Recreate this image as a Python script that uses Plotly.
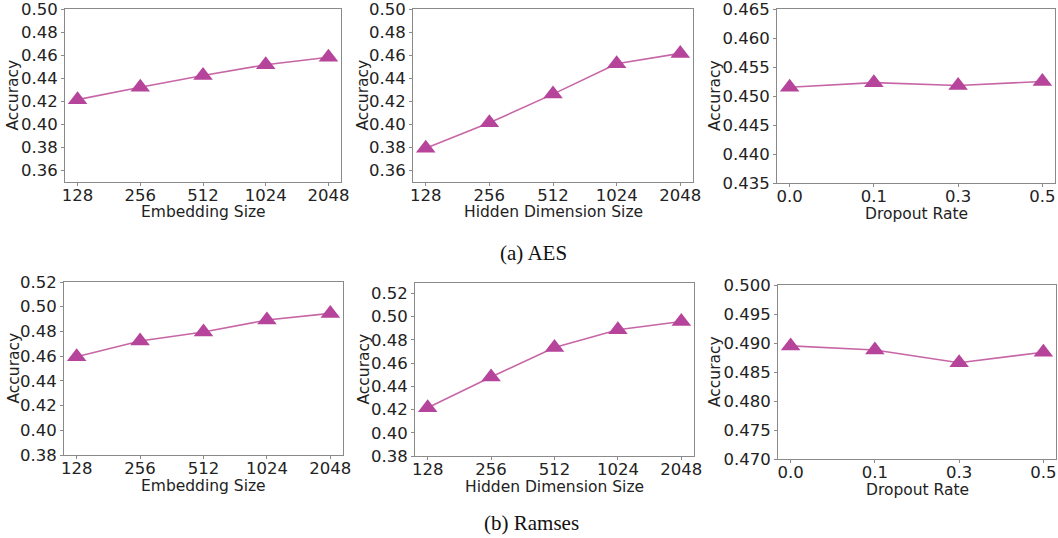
import plotly.graph_objects as go

W, H = 1058, 538

size_cats = ["128", "256", "512", "1024", "2048"]
dropout_cats = ["0.0", "0.1", "0.3", "0.5"]

aes_embedding = [0.4214, 0.4322, 0.4423, 0.4517, 0.4582]
aes_hidden = [0.3792, 0.4013, 0.4262, 0.4525, 0.4615]
aes_dropout = [0.4515, 0.4523, 0.4518, 0.4525]

ramses_embedding = [0.4595, 0.4722, 0.4796, 0.4892, 0.4946]
ramses_hidden = [0.4215, 0.4480, 0.4735, 0.4888, 0.4958]
ramses_dropout = [0.4895, 0.4888, 0.4866, 0.4884]

aes_size_ticks = [0.36, 0.38, 0.40, 0.42, 0.44, 0.46, 0.48, 0.50]
aes_drop_ticks = [0.435, 0.440, 0.445, 0.450, 0.455, 0.460, 0.465]
ramses_size_ticks = [0.38, 0.40, 0.42, 0.44, 0.46, 0.48, 0.50, 0.52]
ramses_drop_ticks = [0.470, 0.475, 0.480, 0.485, 0.490, 0.495, 0.500]

x_titles = ["Embedding Size", "Hidden Dimension Size", "Dropout Rate"] * 2
y_title = "Accuracy"
captions = ["(a) AES", "(b) Ramses"]

panels = [
    # (cats, values, x px range, y px range, y range, tickvals, fmt, ytitle x px, xtitle y px)
    (size_cats, aes_embedding, (65, 341), (9, 182), (0.35, 0.50), aes_size_ticks, ".2f", 13, 212),
    (size_cats, aes_hidden, (413, 693), (9, 182), (0.35, 0.50), aes_size_ticks, ".2f", 363, 212),
    (dropout_cats, aes_dropout, (777, 1055), (9, 183), (0.435, 0.465), aes_drop_ticks, ".3f", 715, 214),
    (size_cats, ramses_embedding, (64, 343), (282, 455), (0.38, 0.52), ramses_size_ticks, ".2f", 13, 486),
    (size_cats, ramses_hidden, (415, 694), (283, 456), (0.38, 0.529), ramses_size_ticks, ".2f", 363, 487),
    (dropout_cats, ramses_dropout, (778, 1056), (285, 459), (0.47, 0.50), ramses_drop_ticks, ".3f", 715, 490),
]

LINE_C = "#C766A6"
MARK_C = "#B5449A"
TXT = "#222222"
AX = "#8a8a8a"
SANS = "DejaVu Sans"

fig = go.Figure()
layout = {}
annotations = []
for i, (cats, vals, xpx, ypx, yr, tv, fmt, ytx, xty) in enumerate(panels):
    n = i + 1
    xa = "x" if n == 1 else f"x{n}"
    ya = "y" if n == 1 else f"y{n}"
    fig.add_trace(go.Scatter(
        x=cats, y=vals, xaxis=xa, yaxis=ya, mode="lines+markers",
        line=dict(color=LINE_C, width=1.6),
        marker=dict(symbol="triangle-up", size=17, color=MARK_C),
        showlegend=False, hoverinfo="skip", cliponaxis=False,
    ))
    k = len(cats)
    pad = 0.2 if k == 5 else 0.15
    xkey = "xaxis" if n == 1 else f"xaxis{n}"
    ykey = "yaxis" if n == 1 else f"yaxis{n}"
    layout[xkey] = dict(
        domain=[xpx[0] / W, xpx[1] / W], anchor=ya, type="category",
        range=[-pad, k - 1 + pad], showgrid=False, zeroline=False,
        showline=True, mirror=True, linecolor=AX, linewidth=1,
        ticks="outside", ticklen=3, tickcolor=AX, automargin=False,
        ticklabelstandoff=-5, ticklabeloverflow="allow",
        tickfont=dict(family=SANS, size=16.5, color=TXT),
    )
    layout[ykey] = dict(
        domain=[1 - ypx[1] / H, 1 - ypx[0] / H], anchor=xa,
        range=list(yr), tickvals=tv, tickformat=fmt,
        showgrid=False, zeroline=False,
        showline=True, mirror=True, linecolor=AX, linewidth=1,
        ticks="outside", ticklen=3, tickcolor=AX, automargin=False,
        ticklabeloverflow="allow",
        tickfont=dict(family=SANS, size=16.5, color=TXT),
    )
    annotations.append(dict(
        text=x_titles[i], x=(xpx[0] + xpx[1]) / 2 / W, y=1 - xty / H,
        xref="paper", yref="paper", showarrow=False,
        xanchor="center", yanchor="middle",
        font=dict(family=SANS, size=15.5, color=TXT)))
    annotations.append(dict(
        text=y_title, x=ytx / W, y=1 - (ypx[0] + ypx[1]) / 2 / H,
        xref="paper", yref="paper", showarrow=False, textangle=-90,
        xanchor="center", yanchor="middle",
        font=dict(family=SANS, size=15.5, color=TXT)))

annotations += [
    dict(text=captions[0], x=533 / W, y=1 - 253 / H, xref="paper", yref="paper",
         showarrow=False, xanchor="center", yanchor="middle",
         font=dict(family="Liberation Serif", size=21, color="#111111")),
    dict(text=captions[1], x=531 / W, y=1 - 523 / H, xref="paper", yref="paper",
         showarrow=False, xanchor="center", yanchor="middle",
         font=dict(family="Liberation Serif", size=21, color="#111111")),
]

fig.update_layout(
    width=W, height=H, margin=dict(l=0, r=0, t=0, b=0),
    paper_bgcolor="white", plot_bgcolor="white",
    annotations=annotations, **layout,
)

fig.write_html("out.html", config={"displayModeBar": False},
               post_script="document.body.style.margin='0';document.body.style.overflow='hidden';")
